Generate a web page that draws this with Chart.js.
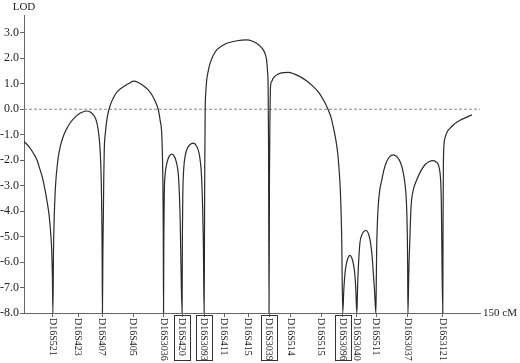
<!DOCTYPE html>
<html>
<head>
<meta charset="utf-8">
<script src="https://cdn.jsdelivr.net/npm/chart.js@4.4.1/dist/chart.umd.min.js"></script>
<style>
  html, body { margin: 0; padding: 0; background: #fff; }
  #chart { display: block; }
</style>
</head>
<body>
<canvas id="chart" width="520" height="363"></canvas>
<script>
// LOD curve (cM along the chromosome, LOD score; -8 = off the scale)
const cmPos = [
  0, 1.5, 3.1, 4.3, 5.3, 6.2, 6.9, 7.7, 8.3, 8.8, 9.1, 9.35, 9.5,
  9.7, 9.95, 10.2, 10.5, 10.9, 11.3, 12.0, 12.9, 14.0, 15.1, 16.5, 17.9, 19.3, 20.6, 21.8, 22.8, 23.7, 24.4, 24.9, 25.2, 25.45, 25.6, 25.7, 25.8,
  25.95, 26.1, 26.25, 26.4, 26.8, 27.4, 28.5, 29.9, 31.2, 32.6, 34.3, 36.0, 37.6, 39.2, 40.7, 42.0, 43.2, 44.2, 44.8, 45.3, 45.55, 45.7, 45.82, 45.9,
  46.0, 46.15, 46.4, 47.0, 47.7, 48.6, 49.5, 50.2, 50.8, 51.1, 51.4, 51.6, 52.0,
  52.1, 52.25, 52.6, 53.0, 53.5, 54.5, 55.7, 56.8, 57.6, 58.1, 58.4, 58.75, 59.0, 59.25,
  59.35, 59.45, 59.6, 59.8, 60.1, 60.6, 61.2, 62.2, 63.4, 65.0, 66.7, 70.0, 73.3, 75.0, 76.5, 77.8, 78.7, 79.4, 79.8, 80.1, 80.3, 80.45, 80.6,
  80.75, 80.9, 81.1, 81.5, 82.0, 83.0, 84.2, 85.5, 86.9, 88.8, 90.8, 93.0, 95.2, 97.0, 98.5, 99.4, 100.1, 101.0, 101.7, 102.5, 103.2, 103.6, 104.0, 104.3, 104.5, 104.85,
  105.2, 105.6, 106.0, 106.4, 107.2, 107.8, 108.3, 108.8, 109.1, 109.5,
  109.75, 110.0, 110.5, 111.2, 112.5, 113.4, 114.0, 114.5, 114.9, 115.3, 115.75,
  115.9, 116.0, 116.2, 116.5, 117.0, 117.7, 118.4, 119.3, 120.3, 121.5, 122.7, 123.7, 124.6, 125.3, 125.65, 125.9, 126.1, 126.2, 126.3,
  126.6, 127.0, 127.2, 127.5, 128.2, 129.2, 130.5, 131.9, 133.2, 134.6, 135.5, 136.3, 136.8, 137.1, 137.3, 137.4, 137.75,
  137.85, 137.95, 138.2, 138.5, 138.8, 139.4, 140.1, 141.2, 142.3, 143.6, 145.0, 146.2, 147.3
];
const lodScore = [
  -1.27, -1.45, -1.73, -2.0, -2.38, -2.75, -3.16, -3.7, -4.21, -4.9, -5.5, -6.6, -8,
  -5.6, -4.21, -3.4, -2.77, -2.25, -1.86, -1.43, -1.07, -0.78, -0.55, -0.35, -0.2, -0.11, -0.07, -0.11, -0.22, -0.42, -0.81, -1.35, -1.99, -3.0, -4.21, -5.6, -8,
  -5.6, -4.2, -2.6, -1.6, -0.9, -0.3, 0.2, 0.56, 0.75, 0.87, 1.0, 1.1, 1.05, 0.93, 0.78, 0.58, 0.3, -0.03, -0.45, -0.94, -1.9, -3.0, -5.0, -8,
  -5.0, -3.3, -2.6, -2.12, -1.86, -1.76, -1.86, -2.12, -2.6, -3.3, -4.5, -5.9, -8,
  -5.0, -3.3, -2.25, -1.85, -1.6, -1.4, -1.33, -1.45, -1.73, -2.15, -2.64, -3.8, -5.25, -8,
  -5.5, -2.5, -0.03, 0.65, 1.15, 1.5, 1.8, 2.1, 2.33, 2.48, 2.59, 2.69, 2.72, 2.68, 2.59, 2.46, 2.33, 2.15, 1.93, 1.5, 0.89, -1.5, -8,
  -2.5, -0.42, 0.89, 1.1, 1.22, 1.34, 1.41, 1.44, 1.45, 1.39, 1.28, 1.11, 0.89, 0.65, 0.36, 0.16, -0.03, -0.32, -0.68, -1.15, -1.73, -2.3, -3.04, -4.0, -5.0, -8,
  -7.1, -6.43, -6.1, -5.9, -5.74, -5.83, -6.04, -6.45, -6.96, -8,
  -6.9, -6.17, -5.25, -4.92, -4.76, -4.92, -5.25, -5.75, -6.43, -7.1, -8,
  -6.6, -5.52, -4.6, -3.82, -3.2, -2.77, -2.38, -2.05, -1.86, -1.79, -1.87, -2.05, -2.4, -2.9, -3.35, -3.95, -5.0, -6.17, -8,
  -6.3, -4.86, -4.1, -3.56, -3.1, -2.77, -2.43, -2.18, -2.06, -2.02, -2.07, -2.18, -2.45, -2.9, -3.8, -4.86, -8,
  -4.5, -2.25, -1.33, -1.12, -1.0, -0.85, -0.75, -0.62, -0.51, -0.42, -0.35, -0.28, -0.22
];

const markerCM = [9.5, 17.8, 25.8, 35.9, 45.9, 52.0, 59.3, 65.8, 73.7, 80.6, 87.8, 97.7, 104.9, 109.5, 115.8, 126.3, 137.8];
const markerNames = ['D16S521', 'D16S423', 'D16S407', 'D16S405', 'D16S3036', 'D16S420', 'D16S3093', 'D16S411',
  'D16S415', 'D16S3039', 'D16S514', 'D16S515', 'D16S3096', 'D16S3040', 'D16S511', 'D16S3037', 'D16S3121'];
const boxedMarkers = ['D16S420', 'D16S3093', 'D16S3039', 'D16S3096'];

const yTicks = [-8, -7, -6, -5, -4, -3, -2, -1, 0, 1, 2, 3];
const zeroLineX = [0, 150];

const serif = '"Liberation Serif", "Times New Roman", serif';

// rotated marker names + axis titles
const markerLabels = {
  id: 'markerLabels',
  afterDraw(chart) {
    const ctx = chart.ctx;
    const xs = chart.scales.x;
    const area = chart.chartArea;
    ctx.save();
    ctx.fillStyle = '#222';
    ctx.strokeStyle = '#333';
    ctx.lineWidth = 1;
    ctx.font = '10px ' + serif;
    markerNames.forEach((name, i) => {
      const px = Math.round(xs.getPixelForValue(markerCM[i]));
      ctx.save();
      ctx.translate(px, area.bottom + 5);
      ctx.rotate(Math.PI / 2);
      ctx.textAlign = 'left';
      ctx.textBaseline = 'middle';
      ctx.fillText(name, 0, 0);
      ctx.restore();
      if (boxedMarkers.includes(name)) {
        ctx.strokeRect(px - 7.5, area.bottom + 2.5, 16, 45);
      }
    });
    ctx.font = '11px ' + serif;
    ctx.textAlign = 'center';
    ctx.textBaseline = 'middle';
    ctx.fillText('LOD', area.left, 7);
    ctx.textAlign = 'left';
    ctx.fillText('150 cM', area.right + 3, area.bottom);
    ctx.restore();
  }
};

new Chart(document.getElementById('chart'), {
  type: 'line',
  data: {
    datasets: [
      {
        data: cmPos.map((x, i) => ({ x: x, y: lodScore[i] })),
        borderColor: '#2a2a2a',
        borderWidth: 1.2,
        pointRadius: 0,
        cubicInterpolationMode: 'monotone',
        fill: false
      },
      {
        data: zeroLineX.map(x => ({ x: x, y: 0 })),
        borderColor: '#888',
        borderWidth: 1,
        borderDash: [3, 2],
        pointRadius: 0,
        fill: false
      }
    ]
  },
  options: {
    responsive: false,
    animation: false,
    layout: { padding: { top: 15, right: 40, left: 0, bottom: 0 } },
    plugins: { legend: { display: false }, tooltip: { enabled: false } },
    scales: {
      x: {
        type: 'linear',
        min: 0,
        max: 150,
        afterBuildTicks: s => { s.ticks = markerCM.map(v => ({ value: v })); },
        afterFit: s => { s.height = 50; },
        ticks: { display: false, autoSkip: false },
        grid: { drawOnChartArea: false, drawTicks: true, tickLength: 4, color: '#666' },
        border: { color: '#666', width: 1 }
      },
      y: {
        type: 'linear',
        min: -8,
        max: 3.7,
        afterBuildTicks: s => { s.ticks = yTicks.map(v => ({ value: v })); },
        afterFit: s => { s.width = 24; },
        ticks: {
          callback: v => v.toFixed(1),
          color: '#222',
          padding: 1,
          font: { family: serif, size: 12 }
        },
        grid: { drawOnChartArea: false, drawTicks: true, tickLength: 4, color: '#666' },
        border: { color: '#666', width: 1 }
      }
    }
  },
  plugins: [markerLabels]
});
</script>
</body>
</html>
